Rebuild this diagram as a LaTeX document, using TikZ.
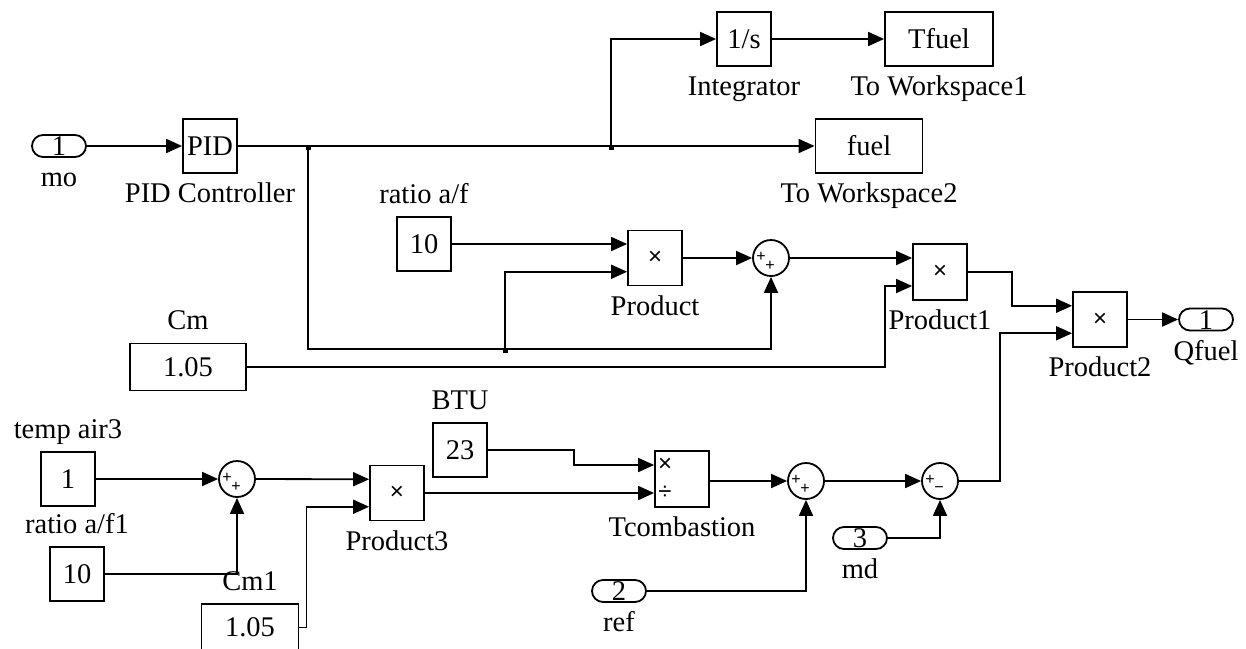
\documentclass[tikz,border=0pt]{standalone}
\usepackage{fontspec}
\setmainfont{Liberation Serif}
\setsansfont{Liberation Sans}
\usetikzlibrary{arrows.meta}

\newcommand\opfont{\fontsize{24}{24}\sffamily}
\newcommand\sgfont{\fontsize{16}{16}\sffamily}

\tikzset{
  blk/.style={draw, line width=1.8pt, minimum width=54pt, minimum height=54pt, inner sep=0pt},
  port/.style={draw, line width=1.8pt, rounded corners=11pt, minimum width=54pt, minimum height=22pt,
    inner sep=0pt, text height=19pt, text depth=0pt},
  sumj/.style={draw, circle, line width=1.8pt, minimum size=36pt, inner sep=0pt},
  sgn/.style={font=\sgfont, inner sep=0pt},
  wire/.style={line width=1.8pt, -{Triangle[length=16pt,width=14pt]}},
  lblb/.style={inner sep=0pt, text height=20pt, text depth=6pt, yshift=-8pt},
  lbla/.style={inner sep=0pt, text height=20pt, text depth=6pt, yshift=6pt}
}

\begin{document}
\begin{tikzpicture}[x=1pt, y=-1pt, line width=1.8pt, font=\fontsize{28.5}{34}\selectfont]
  \useasboundingbox (0,0) rectangle (1246,648);

  % top row
  \node[port, label={[lblb]below:mo}] (mo) at (59,146) {1};
  \node[blk, label={[lblb]below:PID Controller}] (pid) at (210,146) {PID};
  \node[blk, label={[lblb]below:Integrator}] (integ) at (744,39) {1/s};
  \node[blk, minimum width=108pt, label={[lblb]below:To Workspace1}] (tfuel) at (939,39) {Tfuel};
  \node[blk, minimum width=107pt, label={[lblb]below:To Workspace2}] (fuel) at (869,146) {fuel};

  % middle row
  \node[blk, label={[lbla]above:ratio a/f}] (raf) at (424,244) {10};
  \node[blk, minimum height=55pt, label={[lblb]below:Product}] (prod) at (655,258) {\opfont ×};
  \node[sumj] (s1) at (771,258) {};
  \node[sgn] at ([shift={(-10pt,1pt)}]s1) {+};
  \node[sgn] at ([shift={(-1pt,-8pt)}]s1) {+};
  \node[blk, minimum height=56pt, label={[lblb]below:Product1}] (prod1) at (940,272) {\opfont ×};
  \node[blk, minimum width=116pt, minimum height=47pt, label={[lbla]above:Cm}] (cm) at (188,367) {1.05};
  \node[blk, minimum height=55pt, label={[lblb]below:Product2}] (prod2) at (1100,319.5) {\opfont ×};
  \node[port, label={[lblb]below:Qfuel}] (qfuel) at (1206,319.5) {1};

  % bottom row
  \node[blk, label={[lbla]above:temp air3}] (tair) at (68,479) {1};
  \node[sumj] (s4) at (237,479) {};
  \node[sgn] at ([shift={(-10pt,1pt)}]s4) {+};
  \node[sgn] at ([shift={(-1pt,-8pt)}]s4) {+};
  \node[blk, label={[lbla]above:ratio a/f1}] (raf1) at (77,574) {10};
  \node[blk, minimum height=55pt, label={[lblb]below:Product3}] (prod3) at (397,493) {\opfont ×};
  \node[blk, minimum width=97pt, minimum height=47pt, label={[lbla]above:Cm1}] (cm1) at (250,627.5) {1.05};
  \node[blk, label={[lbla]above:BTU}] (btu) at (460,450) {23};
  \node[blk, minimum height=56pt, label={[lblb]below:Tcombastion}] (tcomb) at (682,479) {};
  \node[font=\opfont, inner sep=0pt] at ([shift={(-17pt,14pt)}]tcomb) {×};
  \node[font=\opfont, inner sep=0pt] at ([shift={(-17pt,-14pt)}]tcomb) {÷};
  \node[sumj] (s2) at (806,481) {};
  \node[sgn] at ([shift={(-10pt,1pt)}]s2) {+};
  \node[sgn] at ([shift={(-1pt,-8pt)}]s2) {+};
  \node[sumj] (s3) at (940,481) {};
  \node[sgn] at ([shift={(-10pt,1pt)}]s3) {+};
  \node[sgn] at ([shift={(-1pt,-9pt)}]s3) {−};
  \node[port, label={[lblb]below:md}] (md) at (860,538) {3};
  \node[port, label={[lblb]below:ref}] (ref) at (619,591) {2};

  % branch points
  \coordinate (j1) at (308,146);
  \coordinate (j2) at (611,146);
  \coordinate (j3) at (505,349);
  \foreach \j in {j1,j2,j3}
    \fill (\j) +(-2.5,-1.5) rectangle +(2.5,3.5);

  % lines
  \draw[wire] (mo) -- (pid);
  \draw[wire] (pid) -- (fuel);
  \draw[wire] (j2) |- (integ);
  \draw[wire] (integ) -- (tfuel);
  \draw[wire] (j1) |- (j3) -| (s1);
  \draw[wire] (j3) |- ([yshift=-13.75pt]prod.west);
  \draw[wire] (raf.east) -- (raf.east -| prod.west);
  \draw[wire] (prod) -- (s1);
  \draw[wire] (s1) -- ([yshift=14pt]prod1.west);
  \draw[wire] (cm.east) -- (885,367) |- ([yshift=-14pt]prod1.west);
  \draw[wire] (prod1.east) -- ++(44,0) |- ([yshift=13.75pt]prod2.west);
  \draw[wire] (prod2) -- (qfuel);
  \draw[wire] (s3) -- ++(60,0) |- ([yshift=-13.75pt]prod2.west);
  \draw[wire] (tair) -- (s4);
  \draw[wire] (raf1.east) -| (s4);
  \draw[wire] (s4) -- ([yshift=13.75pt]prod3.west);
  \draw[wire] (cm1.east) -- ++(7,0) |- ([yshift=-13.75pt]prod3.west);
  \draw[wire] (btu.east) -- ++(86,0) |- ([yshift=14pt]tcomb.west);
  \draw[wire] (prod3) -- ([yshift=-14pt]tcomb.west);
  \draw[wire] (tcomb.east |- s2) -- (s2);
  \draw[wire] (s2) -- (s3);
  \draw[wire] (md.east) -| (s3);
  \draw[wire] (ref.east) -| (s2);
\end{tikzpicture}
\end{document}
